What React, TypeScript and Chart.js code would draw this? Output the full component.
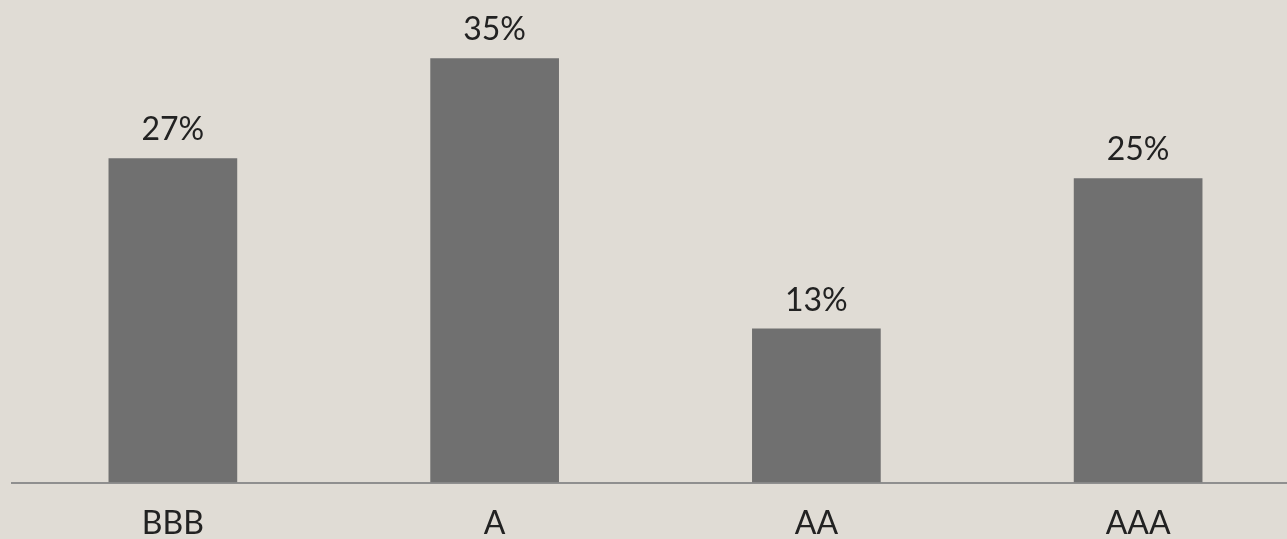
import React, { useEffect, useRef } from "react";
import { Chart, registerables } from "chart.js";

Chart.register(...registerables);

const categories = ["BBB", "A", "AA", "AAA"];
const shares = [26.75, 35, 12.7, 25.1];
const valueLabels = ["27%", "35%", "13%", "25%"];

const BG = "#E0DCD5";
const BAR = "#707070";
const TEXT = "#222222";
const FONT = "Lato";

const valueLabelPlugin = {
  id: "valueLabels",
  afterDatasetsDraw(chart: any) {
    const ctx = chart.ctx;
    const meta = chart.getDatasetMeta(0);
    ctx.save();
    ctx.font = `32px ${FONT}`;
    ctx.fillStyle = TEXT;
    ctx.textAlign = "center";
    ctx.textBaseline = "alphabetic";
    meta.data.forEach((bar: any, i: number) => {
      ctx.fillText(valueLabels[i], bar.x, bar.y - 18);
    });
    ctx.restore();
  },
};

export default function App() {
  const ref = useRef<HTMLCanvasElement>(null);
  useEffect(() => {
    document.documentElement.style.overflow = "hidden";
    document.body.style.margin = "0";
    document.body.style.overflow = "hidden";
    document.body.style.background = BG;
    const chart = new Chart(ref.current!, {
      type: "bar",
      data: {
        labels: categories,
        datasets: [
          {
            data: shares,
            backgroundColor: BAR,
            borderWidth: 0,
            barPercentage: 0.4,
            categoryPercentage: 1,
          },
        ],
      },
      options: {
        responsive: false,
        animation: false,
        layout: { padding: { left: 12, right: 0, top: 0, bottom: 0 } },
        plugins: {
          legend: { display: false },
          tooltip: { enabled: false },
        },
        scales: {
          x: {
            grid: { display: false, drawTicks: false },
            border: { display: true, color: "#8f8f8f", width: 2 },
            ticks: {
              color: TEXT,
              font: { family: FONT, size: 32 },
              padding: 22,
            },
          },
          y: {
            display: false,
            min: 0,
            max: 39.8,
          },
        },
      },
      plugins: [valueLabelPlugin],
    });
    return () => chart.destroy();
  }, []);
  return (
    <div style={{ width: 1287, height: 539, overflow: "hidden", background: BG }}>
      <canvas ref={ref} width={1299} height={565} style={{ display: "block" }} />
    </div>
  );
}
